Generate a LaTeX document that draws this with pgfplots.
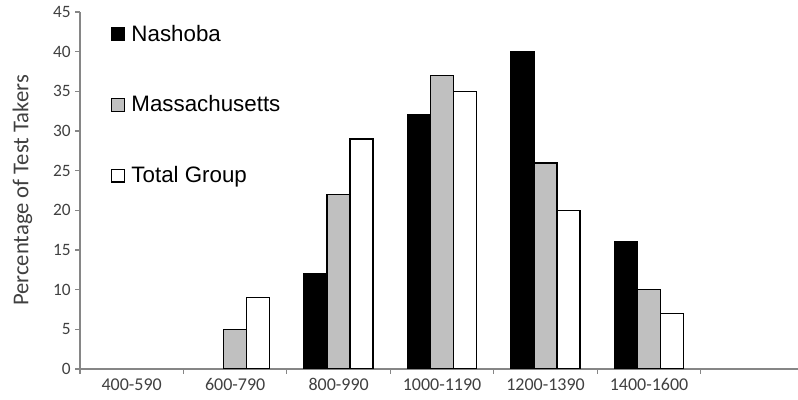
\documentclass[border=0pt]{standalone}
\usepackage{fontspec}
\setmainfont{Carlito}
\newfontfamily\arial{Liberation Sans}
\usepackage{pgfplots}
\pgfplotsset{compat=1.18}
\definecolor{axgray}{HTML}{868686}
\definecolor{bargray}{HTML}{C0C0C0}
\definecolor{txt}{HTML}{404040}
\begin{document}
\begin{tikzpicture}
\begin{axis}[
  scale only axis, width=538.5pt, height=267.75pt,
  xmin=-0.5, xmax=6.44, ymin=0, ymax=45,
  ybar=0pt, bar width=17.25pt,
  axis x line*=bottom, axis y line*=left,
  axis line style={draw=axgray, line width=0.8pt, -},
  xtick={0,1,2,3,4,5},
  xticklabels={400-590,600-790,800-990,1000-1190,1200-1390,1400-1600},
  major x tick style={draw=none},
  minor xtick={-0.5,0.5,1.5,2.5,3.5,4.5,5.5},
  ytick={0,5,...,45},
  tick align=outside, tick pos=left,
  major tick length=3.5pt, minor tick length=3.5pt,
  tick style={draw=axgray, line width=0.8pt},
  ticklabel style={font=\fontsize{13}{15}\selectfont, text=txt},
  x tick label style={font=\fontsize{13.5}{15}\selectfont},
  /pgf/number format/assume math mode=true,
  ylabel={Percentage of Test Takers},
  ylabel style={font=\fontsize{17}{19}\selectfont, text=txt},
  ylabel shift=8.75pt,
  legend image code/.code={\draw[#1, line width=0.9pt] (0pt,-4.75pt) rectangle (9.5pt,4.75pt);},
  legend cell align=left,
  legend style={at={(rel axis cs:0,1)}, anchor=north west, xshift=23pt, yshift=-7.5pt,
    draw=none, fill=none, inner sep=0pt, row sep=35.5pt, column sep=3pt,
    font=\arial\fontsize{16.75}{19}\selectfont},
]
\addplot[fill=black, draw=black, line width=1.2pt] coordinates {(2,12) (3,32) (4,40) (5,16)};
\addplot[fill=bargray, draw=black, line width=1.2pt] coordinates {(1,5) (2,22) (3,37) (4,26) (5,10)};
\addplot[fill=white, draw=black, line width=1.2pt] coordinates {(1,9) (2,29) (3,35) (4,20) (5,7)};
\legend{Nashoba, Massachusetts, Total Group}
\end{axis}
\pgfresetboundingbox
\path ([xshift=-60pt,yshift=-23.25pt]current axis.south west) rectangle ([yshift=9pt]current axis.north east);
\end{tikzpicture}
\end{document}
